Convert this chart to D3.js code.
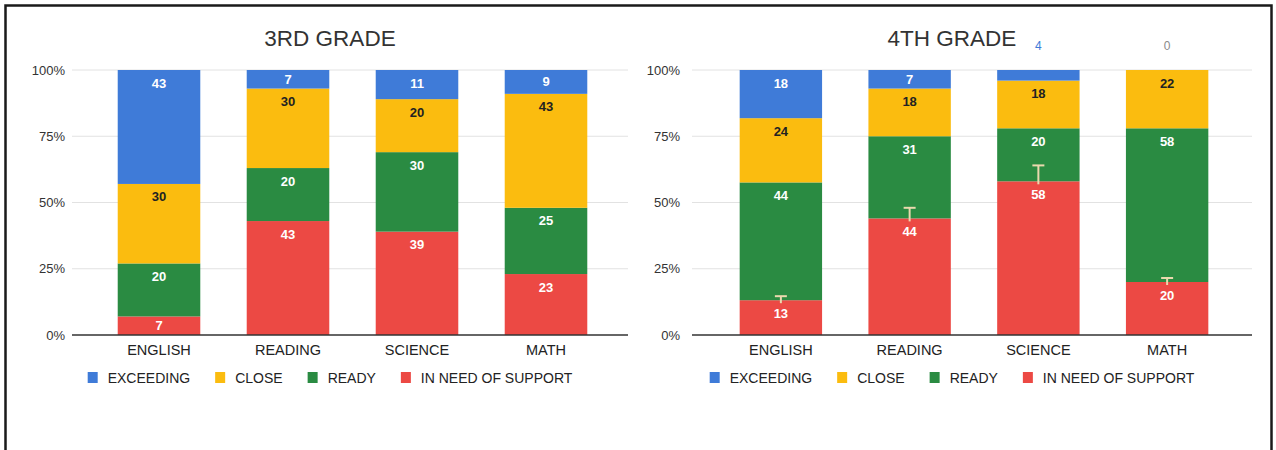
<!DOCTYPE html>
<html>
<head>
<meta charset="utf-8">
<script src="https://cdn.jsdelivr.net/npm/d3@7"></script>
<style>
  html, body { margin: 0; padding: 0; background: #fff; }
  svg { display: block; font-family: "Liberation Sans", Arial, sans-serif; }
</style>
</head>
<body>
<svg id="chart" width="1276" height="450"></svg>
<script>
// ---- data ----
const categories = ["ENGLISH", "READING", "SCIENCE", "MATH"];
const seriesNames = ["EXCEEDING", "CLOSE", "READY", "IN NEED OF SUPPORT"];
const seriesColors = ["#3f7bd8", "#fbbc0f", "#2a8b42", "#ec4944"];
const yTickLabels = ["0%", "25%", "50%", "75%", "100%"];
const yTickValues = [0, 0.25, 0.5, 0.75, 1];

const grade3Title = "3RD GRADE";
const grade3Exceeding = [43, 7, 11, 9];
const grade3Close = [30, 30, 20, 43];
const grade3Ready = [20, 20, 30, 25];
const grade3Support = [7, 43, 39, 23];

const grade4Title = "4TH GRADE";
const grade4Exceeding = [18, 7, 4, 0];
const grade4Close = [24, 18, 18, 22];
const grade4Ready = [44, 31, 20, 58];
const grade4Support = [13, 44, 58, 20];
// faint whisker marks seen on top of the red segments in the 4th grade chart (percentage points)
const grade4SupportWhisker = [1.5, 4, 6, 1.5];

// ---- drawing ----
const svg = d3.select("#chart");

// outer frame
svg.append("rect")
  .attr("x", 5.5).attr("y", 5.5)
  .attr("width", 1266).attr("height", 470)
  .attr("fill", "none").attr("stroke", "#1a1a1a").attr("stroke-width", 2.5);

function drawChart(opt) {
  const { title, series, whisker, bandRange, gridRange, labelX, titleX } = opt;
  const yTop = 70, yBottom = 335;
  const g = svg.append("g");

  const x = d3.scaleBand().domain(categories).range(bandRange).paddingInner(0.36).paddingOuter(0.18);
  const y = d3.scaleLinear().domain([0, 1]).range([yBottom, yTop]);

  // title
  g.append("text").attr("x", titleX).attr("y", 46)
    .attr("text-anchor", "middle").attr("font-size", 22.5).attr("fill", "#333")
    .text(title);

  // gridlines
  g.selectAll("line.grid").data(yTickValues.filter(v => v > 0)).join("line")
    .attr("x1", gridRange[0]).attr("x2", gridRange[1])
    .attr("y1", d => y(d)).attr("y2", d => y(d))
    .attr("stroke", "#e2e2e2").attr("stroke-width", 1);

  // y tick labels
  g.selectAll("text.ytick").data(yTickValues).join("text")
    .attr("x", labelX).attr("y", d => y(d) + 4.5)
    .attr("text-anchor", "end").attr("font-size", 13).attr("fill", "#333")
    .text((d, i) => yTickLabels[i]);

  // stack: bottom to top -> support, ready, close, exceeding
  const order = [3, 2, 1, 0];
  const rows = categories.map((c, i) => {
    const row = { cat: c };
    seriesNames.forEach((s, k) => row[s] = series[k][i]);
    return row;
  });
  const stack = d3.stack().keys(order.map(k => seriesNames[k])).offset(d3.stackOffsetExpand);
  const layers = stack(rows);

  layers.forEach((layer, li) => {
    const sIdx = order[li];
    const color = seriesColors[sIdx];
    const lg = g.append("g");
    lg.selectAll("rect").data(layer).join("rect")
      .attr("x", d => x(d.data.cat))
      .attr("width", x.bandwidth())
      .attr("y", d => y(d[1]))
      .attr("height", d => Math.max(0, y(d[0]) - y(d[1])))
      .attr("fill", color);

    lg.selectAll("text").data(layer).join("text")
      .each(function(d) {
        const v = d.data[seriesNames[sIdx]];
        const top = y(d[1]), bot = y(d[0]);
        const h = bot - top;
        const t = d3.select(this)
          .attr("x", x(d.data.cat) + x.bandwidth() / 2)
          .attr("text-anchor", "middle")
          .text(v);
        if (h < 13) {
          t.attr("y", yTop - 20).attr("font-size", 12)
            .attr("fill", v > 0 ? color : "#8a8a8a");
        } else {
          const cy = Math.min(top + 13, (top + bot) / 2);
          t.attr("y", cy + 4.5).attr("font-size", 13).attr("font-weight", "bold")
            .attr("fill", sIdx === 1 ? "#222" : "#fff");
        }
      });
  });

  // whiskers on the red (support) segments
  if (whisker) {
    const supLayer = layers[0];
    g.selectAll("g.wh").data(supLayer).join("g")
      .each(function(d, i) {
        const total = seriesNames.reduce((a, s) => a + d.data[s], 0);
        const top = y(d[1]);
        const w = y(d[1] + whisker[i] / total);
        const cx = x(d.data.cat) + x.bandwidth() / 2;
        const gg = d3.select(this);
        gg.append("line").attr("x1", cx).attr("x2", cx).attr("y1", w).attr("y2", top + 3)
          .attr("stroke", "#ead9ae").attr("stroke-width", 2);
        gg.append("line").attr("x1", cx - 6).attr("x2", cx + 6).attr("y1", w).attr("y2", w)
          .attr("stroke", "#ead9ae").attr("stroke-width", 2);
      });
  }

  // baseline
  g.append("line").attr("x1", gridRange[0]).attr("x2", gridRange[1])
    .attr("y1", yBottom).attr("y2", yBottom)
    .attr("stroke", "#333").attr("stroke-width", 1.5);

  // x labels
  g.selectAll("text.xl").data(categories).join("text")
    .attr("x", d => x(d) + x.bandwidth() / 2).attr("y", 354.5)
    .attr("text-anchor", "middle").attr("font-size", 14.5).attr("fill", "#222")
    .text(d => d);

  // legend
  const leg = g.append("g");
  let cur = 0;
  seriesNames.forEach((s, k) => {
    const item = leg.append("g").attr("transform", `translate(${cur},0)`);
    item.append("rect").attr("x", 0).attr("y", 372).attr("width", 10).attr("height", 11)
      .attr("fill", seriesColors[k]);
    const t = item.append("text").attr("x", 20).attr("y", 382.5)
      .attr("font-size", 14).attr("fill", "#222").text(s);
    cur += 20 + t.node().getComputedTextLength() + 25;
  });
  const legW = cur - 25;
  leg.attr("transform", `translate(${titleX - legW / 2},0)`);
}

drawChart({
  title: grade3Title,
  series: [grade3Exceeding, grade3Close, grade3Ready, grade3Support],
  whisker: null,
  bandRange: [94.5, 610.5],
  gridRange: [72, 628],
  labelX: 65,
  titleX: 330
});

drawChart({
  title: grade4Title,
  series: [grade4Exceeding, grade4Close, grade4Ready, grade4Support],
  whisker: grade4SupportWhisker,
  bandRange: [716.5, 1231.5],
  gridRange: [692, 1252],
  labelX: 680,
  titleX: 952
});
</script>
</body>
</html>
